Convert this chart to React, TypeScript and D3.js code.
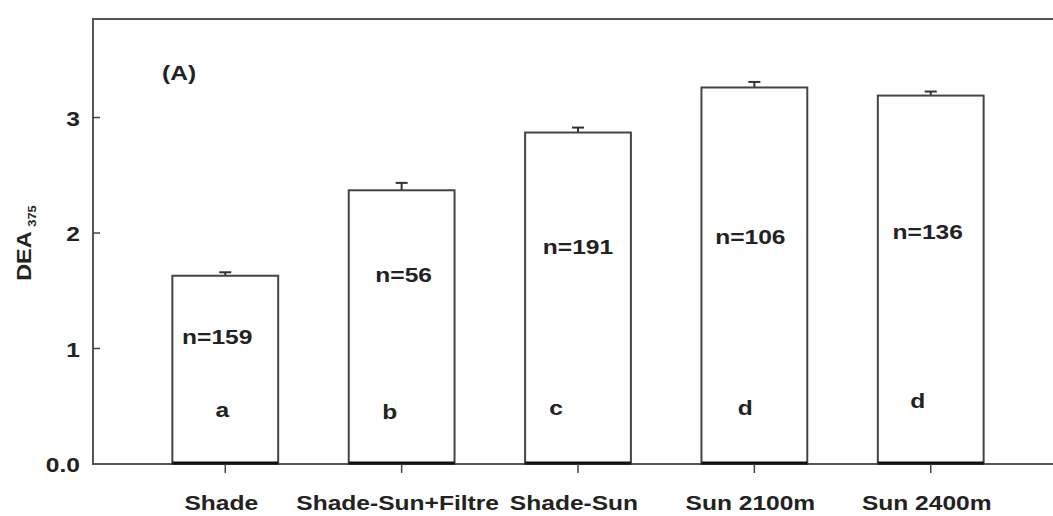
import React from "react";
import * as d3 from "d3";

const categories = ["Shade", "Shade-Sun+Filtre", "Shade-Sun", "Sun 2100m", "Sun 2400m"];
const means = [1.63, 2.37, 2.87, 3.26, 3.19];
const errors = [0.03, 0.064, 0.043, 0.048, 0.035];
const nLabels = ["n=159", "n=56", "n=191", "n=106", "n=136"];
const groupLetters = ["a", "b", "c", "d", "d"];
const nLabelY = [1.1, 1.64, 1.88, 1.97, 2.01];
const letterY = [0.47, 0.45, 0.49, 0.49, 0.55];
const letterShift = [-3, -12, -22, -9, -13];
const nShift = [-8, 2, 0, -4, -3];
const yTicks = [0, 1, 2, 3];
const yTickLabels = ["0.0", "1", "2", "3"];

const W = 1053;
const H = 516;
const left = 93;
const right = 1063;
const top = 19;
const bottom = 464;
const SX = 1.17;
const FONT = "'Liberation Sans', Arial, sans-serif";

export default function App() {
  const x = d3.scaleBand<string>().domain(categories).range([left, right]).paddingInner(0.4).paddingOuter(0.45);
  const y = d3.scaleLinear().domain([0, 3.853]).range([bottom, top]);
  const bw = x.bandwidth();

  const T = (props: { x: number; y: number; children: any; anchor?: string; size?: number }) => {
    const { x: tx, y: ty, children, anchor = "middle", size = 21 } = props;
    return (
      <text
        transform={`translate(${tx},${ty}) scale(${SX},1)`}
        textAnchor={anchor as any}
        dominantBaseline="central"
        fontFamily={FONT}
        fontWeight="bold"
        fontSize={size}
        fill="#222"
      >
        {children}
      </text>
    );
  };

  return (
    <svg width={W} height={H} style={{ position: "absolute", left: 0, top: 0, display: "block", background: "#fff" }}>
      {/* frame */}
      <rect x={left} y={top} width={right - left} height={bottom - top} fill="none" stroke="#555" strokeWidth={2} />

      {/* bars */}
      {categories.map((c, i) => {
        const bx = x(c)!;
        const cx = bx + bw / 2;
        return (
          <g key={c}>
            <line x1={cx} x2={cx} y1={y(means[i])} y2={y(means[i] + errors[i])} stroke="#333" strokeWidth={2} />
            <line x1={cx - 6} x2={cx + 6} y1={y(means[i] + errors[i])} y2={y(means[i] + errors[i])} stroke="#333" strokeWidth={2} />
            <rect x={bx} y={y(means[i])} width={bw} height={y(0) - y(means[i])} fill="#fff" stroke="#444" strokeWidth={2} />
            <line x1={bx} x2={bx + bw} y1={bottom - 1} y2={bottom - 1} stroke="#111" strokeWidth={3} />
            <line x1={cx} x2={cx} y1={bottom} y2={bottom + 9} stroke="#444" strokeWidth={1.5} />
            <T x={cx + nShift[i]} y={y(nLabelY[i])}>{nLabels[i]}</T>
            <T x={cx + letterShift[i]} y={y(letterY[i])}>{groupLetters[i]}</T>
            <T x={cx - 4} y={503}>{c}</T>
          </g>
        );
      })}

      {/* y ticks */}
      {yTicks.map((t, i) => (
        <g key={t}>
          {t > 0 && <line x1={left} x2={left + 7} y1={y(t)} y2={y(t)} stroke="#444" strokeWidth={1.5} />}
          <T x={80} y={y(t) + 1} anchor="end">{yTickLabels[i]}</T>
        </g>
      ))}

      {/* y label */}
      <text
        transform={`translate(31,243) rotate(-90) scale(${SX},1)`}
        textAnchor="middle"
        fontFamily={FONT}
        fontWeight="bold"
        fontSize={20}
        fill="#222"
      >
        DEA
        <tspan fontSize={11} dy={5} dx={4}>375</tspan>
      </text>

      {/* panel label */}
      <T x={162} y={73} anchor="start">(A)</T>
    </svg>
  );
}
